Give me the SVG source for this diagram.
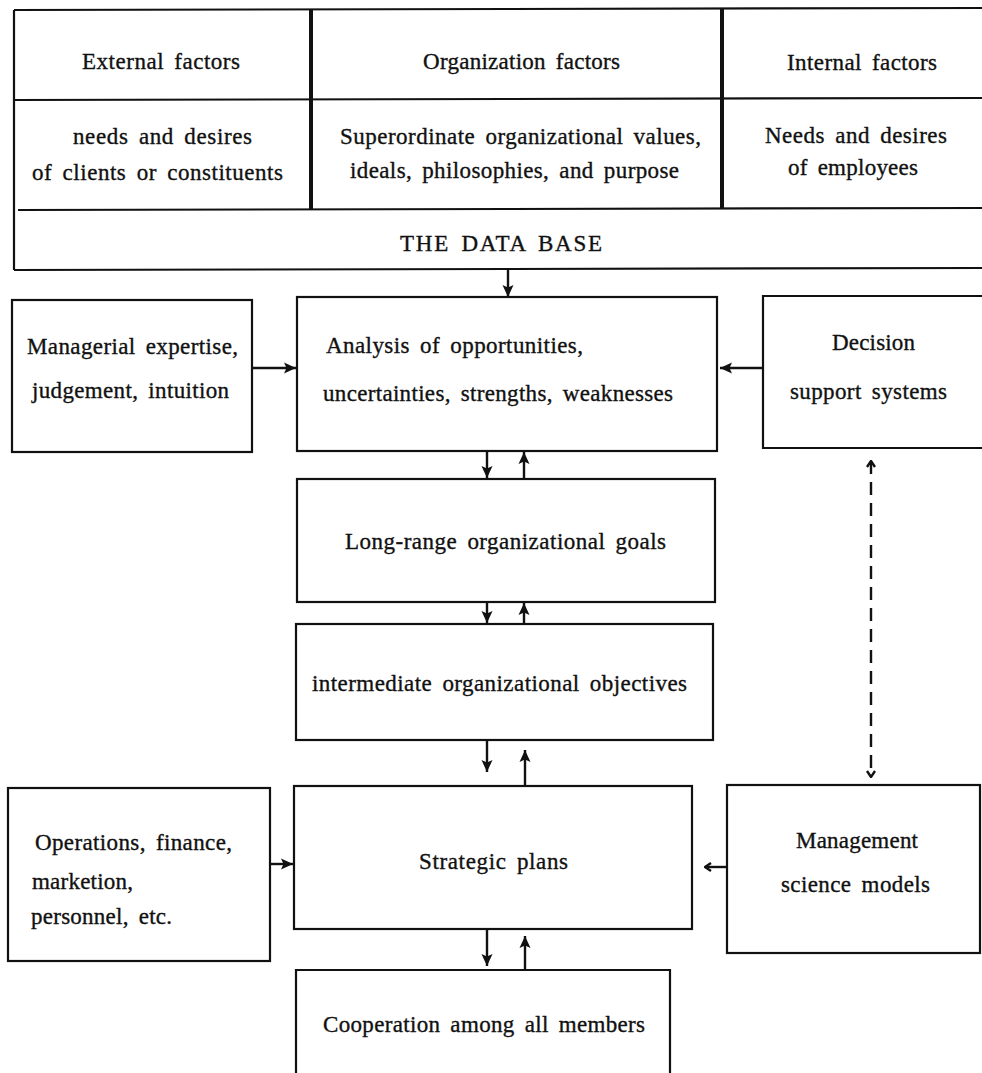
<svg xmlns="http://www.w3.org/2000/svg" width="982" height="1073" viewBox="0 0 982 1073">
  <style>
    .bg { fill: #ffffff; }
    .box { fill: none; stroke: #111; stroke-width: 2.2; }
    .rule { fill: none; stroke: #111; stroke-width: 2.2; }
    .heavy { fill: none; stroke: #111; stroke-width: 4; }
    .lbl { font-family: "Liberation Serif", "Times New Roman", serif; font-size: 23px; fill: #111; stroke: #111; stroke-width: 0.35; word-spacing: 4px; }
    .conn { fill: none; stroke: #111; stroke-width: 2.4; }
    .dash { fill: none; stroke: #111; stroke-width: 2.4; stroke-dasharray: 13 8; }
  </style>
  <defs>
    <marker id="head" markerUnits="userSpaceOnUse" viewBox="0 0 12 12" markerWidth="12" markerHeight="12" refX="12" refY="6" orient="auto">
      <path d="M0,0.5 L12,6 L0,11.5 L2.5,6 Z" fill="#111"/>
    </marker>
    <marker id="open" markerUnits="userSpaceOnUse" viewBox="0 0 10 10" markerWidth="10" markerHeight="10" refX="9" refY="5" orient="auto-start-reverse">
      <path d="M3,1 L9,5 L3,9" fill="none" stroke="#111" stroke-width="2.4"/>
    </marker>
  </defs>

  <rect class="bg" x="0" y="0" width="982" height="1073"/>

  <!-- Data base table: three factor columns over a full-width base row -->
  <g id="data-base">
    <path class="rule" d="M14,10 L982,8"/>
    <path class="rule" d="M14,100 L982,98"/>
    <path class="rule" d="M18,210 L982,208"/>
    <path class="rule" d="M14,270 L982,268"/>
    <path class="rule" d="M14,10 L14,270"/>
    <path class="heavy" d="M311,10 L311,210"/>
    <path class="heavy" d="M722,8 L722,208"/>
    <text class="lbl" x="82" y="69" textLength="158" lengthAdjust="spacing">External factors</text>
    <text class="lbl" x="423" y="69" textLength="197" lengthAdjust="spacing">Organization factors</text>
    <text class="lbl" x="787" y="70" textLength="150" lengthAdjust="spacing">Internal factors</text>
    <text class="lbl" x="73" y="144" textLength="179" lengthAdjust="spacing">needs and desires</text>
    <text class="lbl" x="32" y="180" textLength="251" lengthAdjust="spacing">of clients or constituents</text>
    <text class="lbl" x="340" y="144" textLength="361" lengthAdjust="spacing">Superordinate organizational values,</text>
    <text class="lbl" x="350" y="178" textLength="329" lengthAdjust="spacing">ideals, philosophies, and purpose</text>
    <text class="lbl" x="765" y="143" textLength="182" lengthAdjust="spacing">Needs and desires</text>
    <text class="lbl" x="788" y="175" textLength="130" lengthAdjust="spacing">of employees</text>
    <text class="lbl" x="400" y="251" textLength="202" lengthAdjust="spacing">THE DATA BASE</text>
  </g>

  <g id="managerial">
    <rect class="box" x="12" y="300" width="240" height="152"/>
    <text class="lbl" x="27" y="354" textLength="211" lengthAdjust="spacing">Managerial expertise,</text>
    <text class="lbl" x="32" y="398" textLength="197" lengthAdjust="spacing">judgement, intuition</text>
  </g>

  <g id="analysis">
    <rect class="box" x="297" y="297" width="420" height="154"/>
    <text class="lbl" x="326" y="353" textLength="257" lengthAdjust="spacing">Analysis of opportunities,</text>
    <text class="lbl" x="323" y="401" textLength="350" lengthAdjust="spacing">uncertainties, strengths, weaknesses</text>
  </g>

  <g id="decision">
    <path class="box" d="M982,296 L763,296 L763,448 L982,448"/>
    <text class="lbl" x="832" y="350" textLength="83" lengthAdjust="spacing">Decision</text>
    <text class="lbl" x="790" y="399" textLength="157" lengthAdjust="spacing">support systems</text>
  </g>

  <g id="long-range">
    <rect class="box" x="297" y="479" width="418" height="123"/>
    <text class="lbl" x="345" y="549" textLength="321" lengthAdjust="spacing">Long-range organizational goals</text>
  </g>

  <g id="intermediate">
    <rect class="box" x="296" y="624" width="417" height="116"/>
    <text class="lbl" x="312" y="691" textLength="375" lengthAdjust="spacing">intermediate organizational objectives</text>
  </g>

  <g id="operations">
    <rect class="box" x="8" y="788" width="262" height="173"/>
    <text class="lbl" x="35" y="850" textLength="197" lengthAdjust="spacing">Operations, finance,</text>
    <text class="lbl" x="32" y="889" textLength="101" lengthAdjust="spacing">marketion,</text>
    <text class="lbl" x="31" y="924" textLength="141" lengthAdjust="spacing">personnel, etc.</text>
  </g>

  <g id="strategic">
    <rect class="box" x="294" y="786" width="398" height="143"/>
    <text class="lbl" x="419" y="869" textLength="149" lengthAdjust="spacing">Strategic plans</text>
  </g>

  <g id="management">
    <rect class="box" x="727" y="785" width="253" height="168"/>
    <text class="lbl" x="796" y="848" textLength="122" lengthAdjust="spacing">Management</text>
    <text class="lbl" x="781" y="892" textLength="149" lengthAdjust="spacing">science models</text>
  </g>

  <g id="cooperation">
    <path class="box" d="M296,1073 L296,970 L670,970 L670,1073"/>
    <text class="lbl" x="323" y="1032" textLength="322" lengthAdjust="spacing">Cooperation among all members</text>
  </g>

  <!-- Connectors -->
  <g id="connectors">
    <line class="conn" x1="508" y1="270" x2="508" y2="297" marker-end="url(#head)"/>
    <line class="conn" x1="252" y1="368" x2="296" y2="368" marker-end="url(#head)"/>
    <line class="conn" x1="763" y1="368" x2="720" y2="368" marker-end="url(#head)"/>

    <line class="conn" x1="487" y1="451" x2="487" y2="478" marker-end="url(#head)"/>
    <line class="conn" x1="524" y1="479" x2="524" y2="452" marker-end="url(#head)"/>

    <line class="conn" x1="487" y1="602" x2="487" y2="623" marker-end="url(#head)"/>
    <line class="conn" x1="524" y1="624" x2="524" y2="603" marker-end="url(#head)"/>

    <line class="conn" x1="487" y1="740" x2="487" y2="772" marker-end="url(#head)"/>
    <line class="conn" x1="525" y1="786" x2="525" y2="750" marker-end="url(#head)"/>

    <line class="conn" x1="487" y1="929" x2="487" y2="966" marker-end="url(#head)"/>
    <line class="conn" x1="525" y1="970" x2="525" y2="936" marker-end="url(#head)"/>

    <line class="conn" x1="270" y1="864" x2="293" y2="864" marker-end="url(#head)"/>
    <line class="conn" x1="727" y1="867" x2="705" y2="867" marker-end="url(#open)"/>

    <line class="dash" x1="871" y1="461" x2="871" y2="777" marker-start="url(#open)" marker-end="url(#open)"/>
  </g>
</svg>
